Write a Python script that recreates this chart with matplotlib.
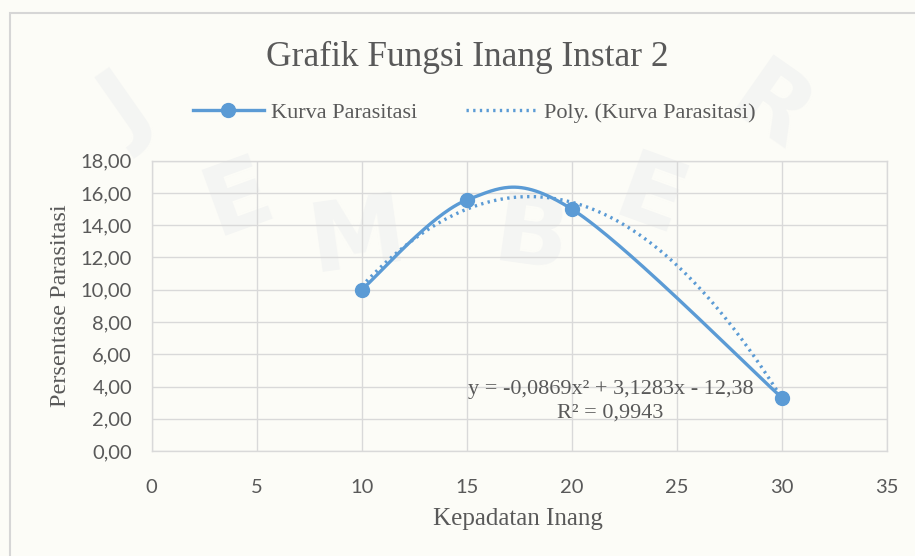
import numpy as np
import matplotlib
matplotlib.use("Agg")
import matplotlib.pyplot as plt
from matplotlib.patches import Rectangle

# ---- data ----
x_vals = [10, 15, 20, 30]
y_vals = [10.0, 15.56, 15.0, 3.30]
poly_coef = [-0.0869, 3.1283, -12.38]   # trendline y = a x^2 + b x + c
r2_text = "R² = 0,9943"
eq_text = "y = -0,0869x² + 3,1283x - 12,38"
x_ticks = [0, 5, 10, 15, 20, 25, 30, 35]
y_ticks = [0, 2, 4, 6, 8, 10, 12, 14, 16, 18]
title = "Grafik Fungsi Inang Instar 2"
series_name = "Kurva Parasitasi"
trend_name = "Poly. (Kurva Parasitasi)"
x_label = "Kepadatan Inang"
y_label = "Persentase Parasitasi"

BLUE = "#5B9BD5"
GRID = "#D9D9D9"
TXT = "#595959"
BG = "#FCFCF7"
SERIF = "Liberation Serif"
SANS = "Lato"

fig = plt.figure(figsize=(9.15, 5.56), dpi=100, facecolor=BG)

# very faint watermark letters
wm = [("J", 0.14, 0.80, 35), ("E", 0.26, 0.64, 20), ("M", 0.39, 0.57, 8),
      ("B", 0.58, 0.57, -8), ("E", 0.71, 0.64, -20), ("R", 0.84, 0.80, -35)]
for ch, wx, wy, rot in wm:
    fig.text(wx, wy, ch, fontsize=70, fontweight="bold", color="#F4F5F3",
             ha="center", va="center", rotation=rot, family="DejaVu Sans", zorder=-5)

# outer chart frame
fig.patches.append(Rectangle((10 / 915, -0.05), 1.0, 1 - 13 / 556 + 0.05,
                             transform=fig.transFigure, fill=False,
                             edgecolor="#D6D6D6", lw=1.5, zorder=-4))

ax = fig.add_axes([0.1656, 0.1888, 0.8038, 0.5222])
ax.set_zorder(1)
ax.set_facecolor("none")
ax.set_xlim(0, 35)
ax.set_ylim(0, 18)
ax.set_xticks(x_ticks)
ax.set_yticks(y_ticks)
ax.set_xticklabels([str(t) for t in x_ticks], family=SANS, fontsize=14.5, color=TXT)
ax.set_yticklabels([f"{t:.2f}".replace(".", ",") for t in y_ticks],
                   family=SANS, fontsize=14.5, color=TXT)
ax.tick_params(axis="y", length=0, pad=14)
ax.tick_params(axis="x", length=0, pad=20)
ax.grid(True, color=GRID, lw=1)
for s in ax.spines.values():
    s.set_color(GRID)
    s.set_linewidth(1)
ax.set_axisbelow(True)

# smoothed series (Excel-like Bezier smoothing computed from data)
P = np.column_stack([x_vals, y_vals]).astype(float)
n = len(P)
curve = []
t = np.linspace(0, 1, 60)[:, None]
for i in range(n - 1):
    p0 = P[i]
    p3 = P[i + 1]
    pm = P[max(i - 1, 0)]
    pp = P[min(i + 2, n - 1)]
    c1 = p0 + (p3 - pm) / 6.0
    c2 = p3 - (pp - p0) / 6.0
    seg = ((1 - t) ** 3) * p0 + 3 * ((1 - t) ** 2) * t * c1 + 3 * (1 - t) * t ** 2 * c2 + t ** 3 * p3
    curve.append(seg if i == 0 else seg[1:])
curve = np.vstack(curve)
ax.plot(curve[:, 0], curve[:, 1], color=BLUE, lw=2.4, solid_capstyle="round", zorder=3)
ax.plot(x_vals, y_vals, linestyle="none", marker="o", ms=10, color=BLUE, zorder=4)

# polynomial trendline
xt = np.linspace(min(x_vals), max(x_vals), 200)
yt = np.polyval(poly_coef, xt)
ax.plot(xt, yt, color=BLUE, lw=2.4, linestyle=(0, (0.7, 1.3)),
        dash_capstyle="butt", zorder=2)

ax.text(21.85, 3.08, eq_text + "\n" + r2_text, ha="center", va="center",
        family=SERIF, fontsize=16, color=TXT, linespacing=1.3, zorder=5)

# legend
h1, = ax.plot([], [], color=BLUE, lw=2.4, marker="o", ms=10)
h2, = ax.plot([], [], color=BLUE, lw=2.4, linestyle=(0, (0.7, 1.3)))
fig.legend([h1, h2], [series_name, trend_name], loc="center",
           bbox_to_anchor=(0.518, 0.797), ncol=2, frameon=False,
           prop={"family": SERIF, "size": 16}, labelcolor=TXT,
           handlelength=3.2, handletextpad=0.3, columnspacing=2.2)

fig.text(0.511, 0.897, title, ha="center", va="center", family=SERIF,
         fontsize=25.5, color=TXT)
fig.text(0.566, 0.066, x_label, ha="center", va="center", family=SERIF,
         fontsize=18, color=TXT)
fig.text(0.066, 0.451, y_label, ha="center", va="center", rotation=90,
         family=SERIF, fontsize=17.5, color=TXT)

fig.savefig("out.png", dpi=100, facecolor=BG)
